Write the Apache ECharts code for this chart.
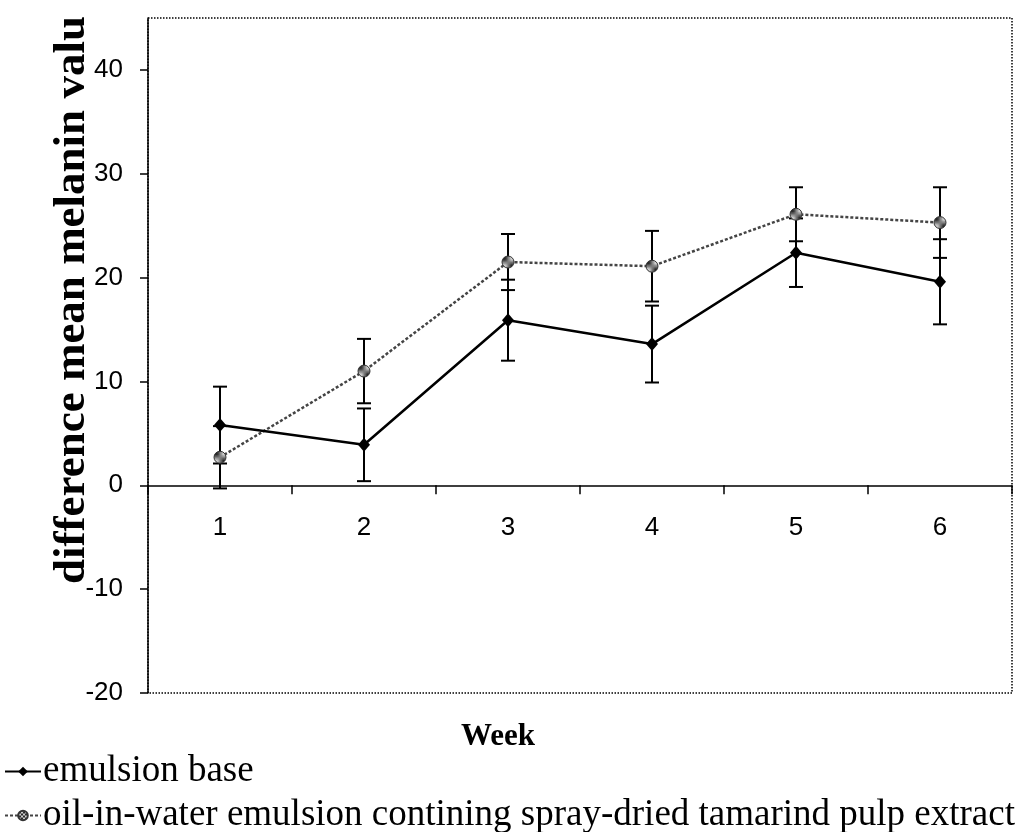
<!DOCTYPE html>
<html>
<head>
<meta charset="utf-8">
<script src="https://cdn.jsdelivr.net/npm/echarts@6/dist/echarts.min.js"></script>
<style>
html,body{margin:0;padding:0;background:#fff;}
#chart{width:1016px;height:832px;}
</style>
</head>
<body>
<div id="chart"></div>
<script>
// ---- data ----
const weeks = ['1', '2', '3', '4', '5', '6'];
const baseName = 'emulsion base';
const baseMean = [5.8, 3.9, 15.9, 13.6, 22.4, 19.6];
const baseErr  = [3.7, 3.5, 3.9, 3.7, 3.3, 4.1];
const oilName = 'oil-in-water emulsion contining spray-dried tamarind pulp extract';
const oilMean = [2.7, 11.0, 21.5, 21.1, 26.1, 25.3];
const oilErr  = [3.0, 3.1, 2.7, 3.4, 2.6, 3.4];
const yMin = -20, yMax = 45, yStep = 10;
const xTitle = 'Week';
const yTitle = 'difference mean melanin valu';

// ---- layout ----
const W = 1016, H = 832;
const gridL = 148, gridR = 4, gridT = 18, gridB = 139;
const gridH = H - gridT - gridB;
// move the category axis up to the zero line of the value axis
const xOffset = -gridH * (0 - yMin) / (yMax - yMin);

function errData(mean, err) {
  return mean.map((m, i) => [i, +(m - err[i]).toFixed(2), +(m + err[i]).toFixed(2)]);
}

// crosshatch pattern for the oil markers
const pc = document.createElement('canvas');
pc.width = 4; pc.height = 4;
const pctx = pc.getContext('2d');
pctx.fillStyle = '#d0d0d0'; pctx.fillRect(0, 0, 4, 4);
pctx.fillStyle = '#2a2a2a';
pctx.fillRect(0, 0, 2, 2); pctx.fillRect(2, 2, 2, 2);

function errRender(params, api) {
  const top = api.coord([api.value(0), api.value(2)]);
  const bot = api.coord([api.value(0), api.value(1)]);
  const hw = 7;
  const st = { stroke: '#000', lineWidth: 2 };
  return {
    type: 'group',
    children: [
      { type: 'line', shape: { x1: top[0], y1: top[1], x2: bot[0], y2: bot[1] }, style: st },
      { type: 'line', shape: { x1: top[0] - hw, y1: top[1], x2: top[0] + hw, y2: top[1] }, style: st },
      { type: 'line', shape: { x1: bot[0] - hw, y1: bot[1], x2: bot[0] + hw, y2: bot[1] }, style: st }
    ]
  };
}

const chart = echarts.init(document.getElementById('chart'), null, { renderer: 'canvas' });
const serif = '"Liberation Serif", "Times New Roman", serif';
const sans = '"Liberation Sans", Arial, sans-serif';

const legendText = { fontSize: 37, fontFamily: serif, color: '#000', padding: [0, 0, 0, -3] };

chart.setOption({
  animation: false,
  backgroundColor: '#fff',
  grid: {
    left: gridL, right: gridR, top: gridT, bottom: gridB,
    show: true, borderColor: '#000', borderWidth: 1.5, borderType: 'dotted',
    backgroundColor: 'transparent'
  },
  xAxis: {
    type: 'category',
    data: weeks,
    boundaryGap: true,
    offset: xOffset,
    axisLine: { onZero: false, lineStyle: { color: '#000', width: 1.5 } },
    axisTick: { show: true, length: 9, lineStyle: { color: '#000', width: 1.5 } },
    axisLabel: { margin: 30, fontSize: 26, color: '#000', fontFamily: sans },
    splitLine: { show: false }
  },
  yAxis: {
    type: 'value',
    min: yMin, max: yMax, interval: yStep,
    axisLine: { show: true, onZero: false, lineStyle: { color: '#000', width: 1.5 } },
    axisTick: { show: true, length: 8, lineStyle: { color: '#000', width: 1.5 } },
    axisLabel: {
      margin: 25, fontSize: 26, color: '#000', fontFamily: sans,
      showMaxLabel: false,
      formatter: v => (v % yStep === 0 ? String(v) : '')
    },
    splitLine: { show: false }
  },
  legend: [
    {
      left: 4, top: 753, padding: 0, itemWidth: 36, itemHeight: 12,
      data: [baseName], textStyle: legendText
    },
    {
      left: 4, top: 797, padding: 0, itemWidth: 36, itemHeight: 12,
      data: [oilName], textStyle: legendText
    }
  ],
  graphic: [
    {
      type: 'text',
      x: 72, y: 300, rotation: Math.PI / 2,
      style: {
        text: yTitle, fill: '#000',
        font: 'bold 45px "Liberation Serif", serif',
        align: 'center', verticalAlign: 'middle'
      }
    },
    {
      type: 'text',
      x: 498, y: 737,
      style: {
        text: xTitle, fill: '#000',
        font: 'bold 31px "Liberation Serif", serif',
        align: 'center', verticalAlign: 'middle'
      }
    }
  ],
  series: [
    {
      type: 'custom', name: 'baseErr', z: 1,
      renderItem: errRender,
      encode: { x: 0, y: [1, 2] },
      data: errData(baseMean, baseErr)
    },
    {
      type: 'custom', name: 'oilErr', z: 1,
      renderItem: errRender,
      encode: { x: 0, y: [1, 2] },
      data: errData(oilMean, oilErr)
    },
    {
      type: 'line', name: oilName, z: 3,
      data: oilMean,
      symbol: 'circle', symbolSize: 12,
      lineStyle: { color: '#444', width: 2.5, type: [3, 2] },
      itemStyle: { color: { image: pc, repeat: 'repeat' }, borderColor: '#333', borderWidth: 1 }
    },
    {
      type: 'line', name: baseName, z: 4,
      data: baseMean,
      symbol: 'diamond', symbolSize: [12, 14],
      lineStyle: { color: '#000', width: 2.5 },
      itemStyle: { color: '#000' }
    }
  ]
});
</script>
</body>
</html>
